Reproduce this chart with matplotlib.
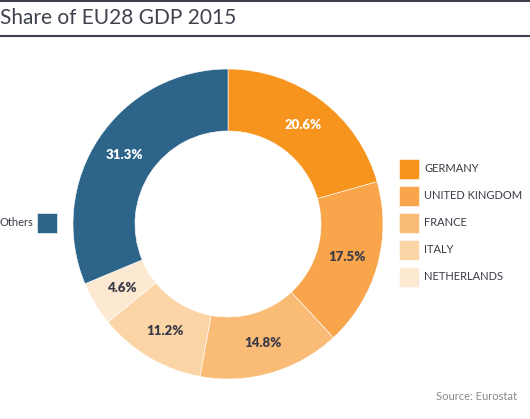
import matplotlib.pyplot as plt
from matplotlib.lines import Line2D

plt.rcParams['font.family'] = ['Lato', 'DejaVu Sans']

countries = ["GERMANY", "UNITED KINGDOM", "FRANCE", "ITALY", "NETHERLANDS", "Others"]
shares = [20.6, 17.5, 14.8, 11.2, 4.6, 31.3]
colors = ["#F7941E", "#F8A54C", "#FABB76", "#FCD5A6", "#FDE8D2", "#2D6489"]
label_colors = ["white", "#3b3b47", "#3b3b47", "#3b3b47", "#3b3b47", "white"]

W, H = 530, 419
fig = plt.figure(figsize=(W / 100, H / 100), dpi=100)

# pie axes: centre (228, 224) px from top, radius 155 px
cx, cy, r = 228, 224, 155
ax = fig.add_axes([(cx - r) / W, (H - cy - r) / H, 2 * r / W, 2 * r / H])
wedges, _, pcts = ax.pie(shares, colors=colors, startangle=90, counterclock=False,
                         radius=1, autopct='%.1f%%', pctdistance=0.8,
                         wedgeprops=dict(width=0.4, edgecolor='white', linewidth=0.4))
for t, c in zip(pcts, label_colors):
    t.set_color(c)
    t.set_fontsize(9.5)
    t.set_fontweight('heavy')
ax.set_xlim(-1, 1)
ax.set_ylim(-1, 1)

# legends (squares ~20 px, row pitch ~27 px)
leg_kw = dict(frameon=False, borderpad=0, borderaxespad=0, handlelength=1.8,
              handleheight=2.39, labelcolor='#3b3b47')
fig.legend(wedges[:5], countries[:5], loc='upper left',
           bbox_to_anchor=(399 / W, 1 - 159 / H), labelspacing=0.63,
           handletextpad=0.45, fontsize=8, **leg_kw)
fig.legend(wedges[5:], countries[5:], loc='center left',
           bbox_to_anchor=(0, 1 - 223 / H), markerfirst=False,
           handletextpad=0.3, fontsize=8, **leg_kw)

# title with rules
fig.text(0.0, 1 - 18 / H, "Share of EU28 GDP 2015", fontsize=15, color='#3f424d',
         va='center', ha='left')
for yy in (1, 36):
    fig.add_artist(Line2D([0, 1], [1 - yy / H, 1 - yy / H], color='#3f424d', lw=1.5,
                          transform=fig.transFigure))

fig.text(517 / W, 1 - 396 / H, "Source: Eurostat", fontsize=8, color='#8a8a8a',
         ha='right', va='center')

fig.savefig("out.png", dpi=100)
